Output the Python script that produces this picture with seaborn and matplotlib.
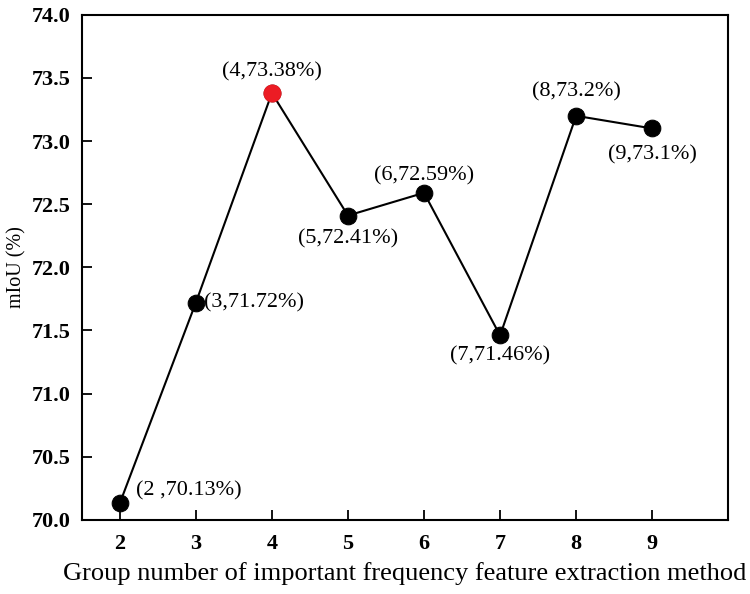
import numpy as np
import pandas as pd
import matplotlib
matplotlib.use("Agg")
import matplotlib.pyplot as plt
import seaborn as sns

# data
groups = [2, 3, 4, 5, 6, 7, 8, 9]
miou = [70.13, 71.72, 73.38, 72.41, 72.59, 71.46, 73.2, 73.1]
labels = ["(2 ,70.13%)", "(3,71.72%)", "(4,73.38%)", "(5,72.41%)",
          "(6,72.59%)", "(7,71.46%)", "(8,73.2%)", "(9,73.1%)"]
best_idx = 2

# label offsets in points (dx, dy) and alignment
offsets = [(12, 9, "left"), (6, 0, "left"), (0, 15, "center"), (0, -17, "center"),
           (0, 12, "center"), (0, -15, "center"), (0, 17, "center"), (0, -19, "center")]

sns.set_theme(style="ticks")
plt.rcParams["font.family"] = ["Liberation Serif", "DejaVu Serif"]
plt.rcParams.update({"text.color": "black", "axes.labelcolor": "black",
                     "xtick.color": "black", "ytick.color": "black"})

df = pd.DataFrame({"group": groups, "miou": miou})

fig = plt.figure(figsize=(7.5, 5.94), dpi=100)
ax = fig.add_axes([0.109, 0.125, 0.862, 0.85])

sns.lineplot(data=df, x="group", y="miou", color="black", lw=1.5,
             marker="o", markersize=12, markerfacecolor="black",
             markeredgecolor="black", ax=ax)
ax.plot(groups[best_idx], miou[best_idx], "o", ms=12, color="#ec1c24",
        mec="#ec1c24", zorder=5)

for g, v, lab, (dx, dy, ha) in zip(groups, miou, labels, offsets):
    ax.annotate(lab, (g, v), xytext=(dx, dy), textcoords="offset points",
                ha=ha, va="center", fontsize=16)

ax.set_xlim(1.5, 10)
ax.set_ylim(70.0, 74.0)
ax.set_xticks(groups)
ax.set_yticks(np.arange(70.0, 74.01, 0.5))
ax.set_yticklabels([f"{t:.1f}" for t in np.arange(70.0, 74.01, 0.5)])
ax.tick_params(direction="in", length=7, width=1.3, labelsize=16)
ax.tick_params(axis="x", pad=10)
ax.tick_params(axis="y", pad=8)
for t in ax.get_xticklabels() + ax.get_yticklabels():
    t.set_fontweight("bold")
for s in ax.spines.values():
    s.set_linewidth(1.5)
    s.set_color("black")
    s.set_visible(True)

ax.set_xlabel("Group number of important frequency feature extraction method",
              fontsize=19, labelpad=6)
ax.set_ylabel("mIoU (%)", fontsize=14.5, labelpad=4)

fig.savefig("out.png", dpi=100)
